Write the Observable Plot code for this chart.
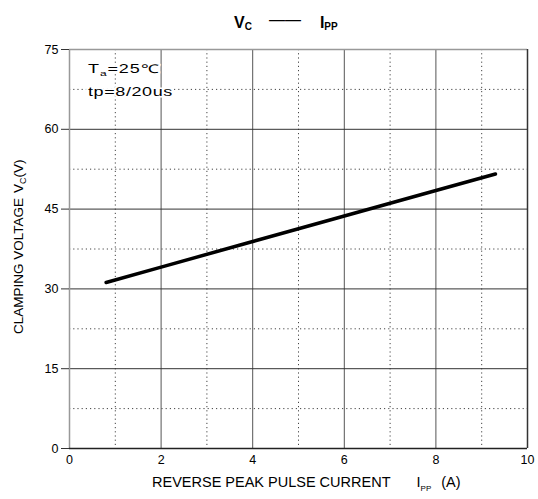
<!DOCTYPE html>
<html><head><meta charset="utf-8">
<script src="https://cdn.jsdelivr.net/npm/d3@7"></script>
<script src="https://cdn.jsdelivr.net/npm/@observablehq/plot@0.6"></script>
<style>body{margin:0;background:#fff}</style>
</head><body><div id="chart"></div>
<script>
// Data
const current = [0.8, 2, 4, 6, 8, 9.3];          // I_PP (A)
const voltage = [31.2, 34.1, 38.9, 43.7, 48.5, 51.6]; // V_C (V)
const xTicks = [0, 2, 4, 6, 8, 10];
const yTicks = [0, 15, 30, 45, 60, 75];
const xMajor = [2, 4, 6, 8];
const xMinor = [1, 3, 5, 7, 9];
const yMajor = [15, 30, 45, 60];
const yMinor = [7.5, 22.5, 37.5, 52.5, 67.5];
const data = current.map((c, i) => ({current: c, voltage: voltage[i]}));

const W = 538, H = 499, mL = 69, mR = 11, mT = 49, mB = 51;
const FONT = "'Liberation Sans', Arial, sans-serif";

const chart = Plot.plot({
  width: W, height: H,
  marginLeft: mL, marginRight: mR, marginTop: mT, marginBottom: mB,
  style: {fontFamily: FONT, fontSize: "12.5px", color: "#000", background: "#fff"},
  x: {domain: [0, 10]},
  y: {domain: [0, 75]},
  marks: [
    Plot.ruleX(xMinor, {stroke: "#444", strokeWidth: 1, strokeDasharray: "1.2,3"}),
    Plot.ruleY(yMinor, {stroke: "#444", strokeWidth: 1, strokeDasharray: "1.2,3"}),
    Plot.ruleX(xMajor, {stroke: "#555", strokeWidth: 1}),
    Plot.ruleY(yMajor, {stroke: "#333", strokeWidth: 1}),
    Plot.ruleX([0], {stroke: "#999", strokeWidth: 1.5}),
    Plot.ruleY([75], {stroke: "#999", strokeWidth: 1.5}),
    Plot.ruleX([10], {stroke: "#333", strokeWidth: 1.5}),
    Plot.ruleY([0], {stroke: "#222", strokeWidth: 1.5}),
    Plot.axisX({ticks: xTicks, tickSize: 0, tickPadding: 7, label: null}),
    Plot.axisY({ticks: yTicks, tickSize: 8, tickPadding: 3, label: null, stroke: "#333"}),
    Plot.line(data, {x: "current", y: "voltage", stroke: "#000", strokeWidth: 3.5})
  ]
});
document.getElementById("chart").appendChild(chart);

const svg = d3.select(chart);
function rich(g, parts, attrs) {
  const t = g.append("text").attr("font-family", FONT).attr("fill", "#000").attr("text-anchor", "start");
  for (const k in attrs) t.attr(k, attrs[k]);
  for (const p of parts) {
    const s = t.append("tspan").text(p.t);
    if (p.size) s.attr("font-size", p.size);
    if (p.weight) s.attr("font-weight", p.weight);
    if (p.dx) s.attr("dx", p.dx);
    if (p.dy) s.attr("dy", p.dy);
  }
  return t;
}

// Title
rich(svg, [
  {t: "V", size: 16, weight: "bold"},
  {t: "C", size: 10, weight: "bold", dy: 2},
  {t: "——", size: 16, weight: "normal", dx: 17, dy: -5},
  {t: "I", size: 16, weight: "bold", dx: 19, dy: 3},
  {t: "PP", size: 10, weight: "bold", dy: 2}
], {x: mL + 165, y: 28});

// X axis label
rich(svg, [
  {t: "REVERSE PEAK PULSE CURRENT", size: 14.5},
  {t: "I", size: 14.5, dx: 26},
  {t: "PP", size: 8, dy: 4},
  {t: "(A)", size: 14.5, dx: 10, dy: -4}
], {x: mL + 83, y: 487});

// Y axis label
rich(svg, [
  {t: "CLAMPING VOLTAGE", size: 13.5},
  {t: "V", size: 13.5, dx: 5},
  {t: "C", size: 9, dy: 3},
  {t: "(V)", size: 13.5, dy: -3}
], {transform: "translate(23,334) rotate(-90)"});

// Annotation
const halo = {stroke: "#fff", "stroke-width": 3, "paint-order": "stroke", "stroke-linejoin": "round"};
rich(svg, [
  {t: "T", size: 12},
  {t: "a", size: 8, dy: 3},
  {t: "=25℃", size: 12, dy: -3}
], {...halo, "letter-spacing": 0.6, transform: `translate(${mL + 19},73) scale(1.5,1)`});
rich(svg, [
  {t: "tp=8/20us", size: 12}
], {...halo, "letter-spacing": 0.4, transform: `translate(${mL + 19},96) scale(1.5,1)`});
</script>
</body></html>
